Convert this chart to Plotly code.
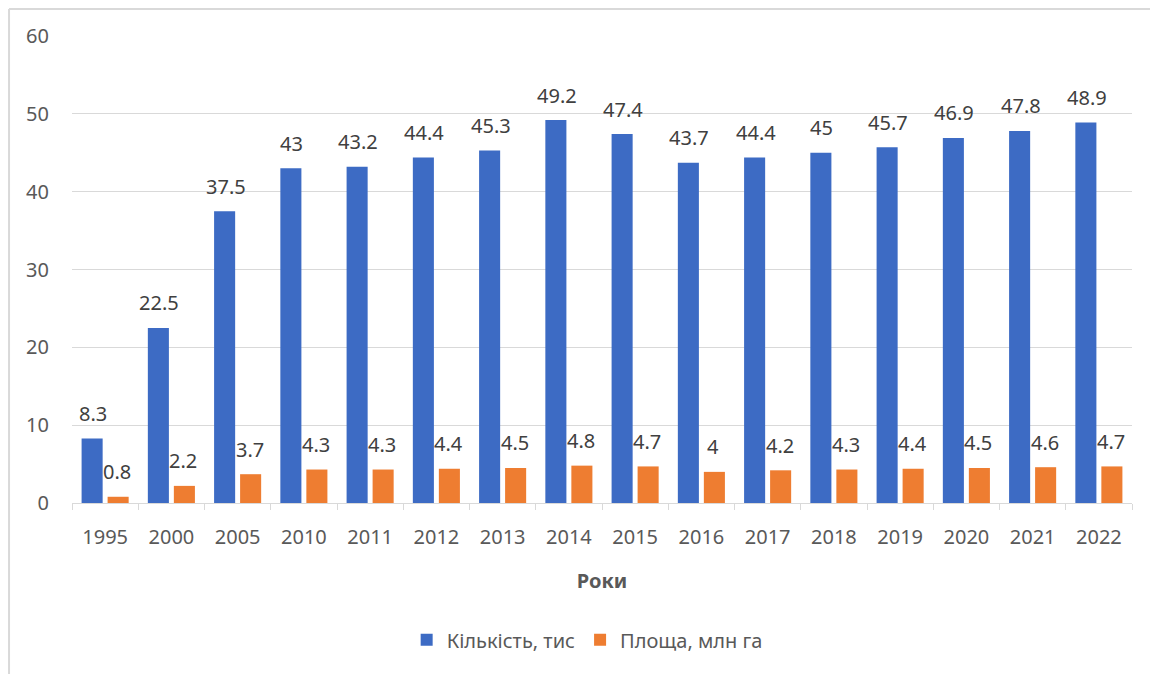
import plotly.graph_objects as go

years = ["1995", "2000", "2005", "2010", "2011", "2012", "2013", "2014",
         "2015", "2016", "2017", "2018", "2019", "2020", "2021", "2022"]
kilkist = [8.3, 22.5, 37.5, 43, 43.2, 44.4, 45.3, 49.2, 47.4, 43.7, 44.4, 45, 45.7, 46.9, 47.8, 48.9]
ploshcha = [0.8, 2.2, 3.7, 4.3, 4.3, 4.4, 4.5, 4.8, 4.7, 4, 4.2, 4.3, 4.4, 4.5, 4.6, 4.7]
series_names = ["Кількість, тис", "Площа, млн га"]

FONT = "Noto Sans"
FS = 20
BLUE = "#3d6bc4"
ORANGE = "#ee7d31"

fig = go.Figure()
fig.add_trace(go.Bar(x=years, y=kilkist, name=series_names[0], marker_color=BLUE,
                     marker_line_width=0))
fig.add_trace(go.Bar(x=years, y=ploshcha, name=series_names[1], marker_color=ORANGE,
                     marker_line_width=0))

annotations = []
for xs, vals in ((-12, kilkist), (12, ploshcha)):
    for i, v in enumerate(vals):
        annotations.append(dict(x=i, y=v, text=f"{v:g}", showarrow=False,
                                xshift=xs, yshift=25, yanchor="middle",
                                font=dict(family=FONT, size=FS, color="#404040")))

fig.update_layout(
    width=1158, height=674,
    margin=dict(l=64, r=34, t=28, b=179, autoexpand=False),
    paper_bgcolor="white", plot_bgcolor="white",
    barmode="group", bargap=0.215, bargroupgap=0.19,
    font=dict(family=FONT, size=FS, color="#595959"),
    showlegend=True,
    legend=dict(orientation="h", x=0.486, xanchor="center", y=-0.293, yanchor="middle",
                font=dict(family=FONT, size=FS, color="#595959"),
                itemwidth=30, tracegroupgap=0),
    annotations=annotations,
    shapes=[
        dict(type="line", xref="paper", yref="paper", x0=-0.0594, x1=1.04, y0=1.0578, y1=1.0578,
             line=dict(color="#d9d9d9", width=2)),
        dict(type="line", xref="paper", yref="paper", x0=-0.0594, x1=-0.0594, y0=1.0578, y1=-0.40,
             line=dict(color="#d9d9d9", width=2)),
    ],
)
fig.update_yaxes(range=[0, 60], dtick=10, showgrid=True, gridcolor="#d9d9d9", gridwidth=1,
                 zeroline=False, showline=False, ticks="", ticklabelstandoff=22,
                 automargin=False,
                 tickfont=dict(family=FONT, size=FS, color="#595959"))
fig.update_xaxes(type="category", range=[-0.5, len(years) - 0.5],
                 showline=True, linecolor="#d9d9d9", linewidth=1, ticks="outside",
                 tickson="boundaries", ticklen=6, tickcolor="#d9d9d9",
                 ticklabelstandoff=16, tickangle=0, automargin=False,
                 tickfont=dict(family=FONT, size=FS, color="#595959"),
                 title=dict(text="<b>Роки</b>", standoff=24,
                            font=dict(family=FONT, size=FS, color="#595959")))

fig.write_html("out.html")
